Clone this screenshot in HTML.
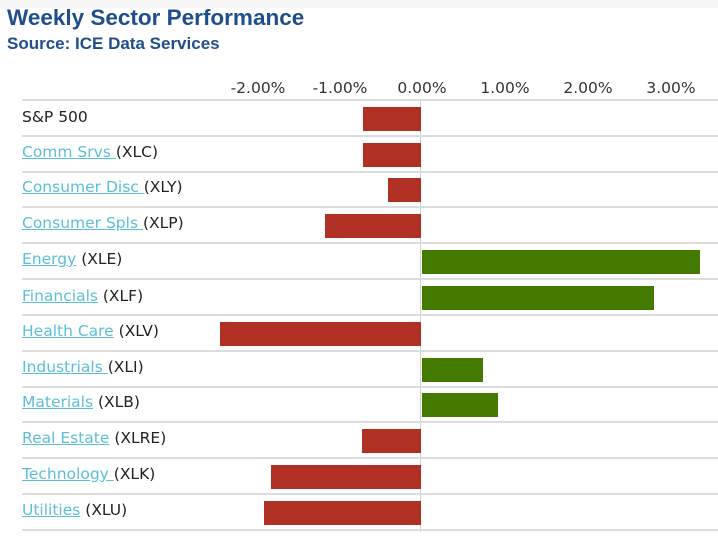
<!DOCTYPE html>
<html><head><meta charset="utf-8"><style>
body{margin:0;width:718px;height:556px;background:#fff;position:relative;overflow:hidden;font-family:"DejaVu Sans",sans-serif}
.t{position:absolute;left:7px;font-family:"Liberation Sans",Arial,sans-serif;font-weight:bold;color:#1f4e8c;white-space:nowrap}
.tick{position:absolute;top:79px;font-size:15.5px;color:#333;width:90px;text-align:center}
.g{position:absolute;left:22px;width:696px;height:2px;background:#dcdcdc}
.lab{position:absolute;left:22px;font-size:15.5px;color:#222;white-space:pre}
.lab a{color:#5bbfd9;text-decoration:underline}
.b{position:absolute;height:24px}
.r{background:#b03024}.gr{background:#457a00}
</style></head><body>
<div style="position:absolute;left:0;top:0;width:718px;height:8px;background:#f5f5f5"></div>
<div class="t" style="top:5px;font-size:22.5px">Weekly Sector Performance</div>
<div class="t" style="top:34px;font-size:17px">Source: ICE Data Services</div>
<div class="tick" style="left:213px">-2.00%</div>
<div class="tick" style="left:295px">-1.00%</div>
<div class="tick" style="left:377px">0.00%</div>
<div class="tick" style="left:460px">1.00%</div>
<div class="tick" style="left:543px">2.00%</div>
<div class="tick" style="left:626px">3.00%</div>
<div style="position:absolute;left:420px;top:100px;width:1px;height:432px;background:#cfcfcf"></div>
<div class="g" style="top:99px"></div><div class="g" style="top:135px"></div><div class="g" style="top:171px"></div><div class="g" style="top:206px"></div><div class="g" style="top:242px"></div><div class="g" style="top:278px"></div><div class="g" style="top:314px"></div><div class="g" style="top:350px"></div><div class="g" style="top:386px"></div><div class="g" style="top:421px"></div><div class="g" style="top:457px"></div><div class="g" style="top:493px"></div><div class="g" style="top:529px"></div>
<div class="lab" style="top:108px">S&amp;P 500</div>
<div class="lab" style="top:143px"><a>Comm Srvs </a>(XLC)</div>
<div class="lab" style="top:178px"><a>Consumer Disc </a>(XLY)</div>
<div class="lab" style="top:214px"><a>Consumer Spls </a>(XLP)</div>
<div class="lab" style="top:250px"><a>Energy</a> (XLE)</div>
<div class="lab" style="top:287px"><a>Financials</a> (XLF)</div>
<div class="lab" style="top:322px"><a>Health Care</a> (XLV)</div>
<div class="lab" style="top:358px"><a>Industrials </a>(XLI)</div>
<div class="lab" style="top:393px"><a>Materials</a> (XLB)</div>
<div class="lab" style="top:429px"><a>Real Estate</a> (XLRE)</div>
<div class="lab" style="top:465px"><a>Technology </a>(XLK)</div>
<div class="lab" style="top:501px"><a>Utilities</a> (XLU)</div>
<div class="b r" style="top:107px;left:363px;width:58px"></div>
<div class="b r" style="top:143px;left:363px;width:58px"></div>
<div class="b r" style="top:178px;left:388px;width:33px"></div>
<div class="b r" style="top:214px;left:325px;width:96px"></div>
<div class="b gr" style="top:250px;left:422px;width:278px"></div>
<div class="b gr" style="top:286px;left:422px;width:232px"></div>
<div class="b r" style="top:322px;left:220px;width:201px"></div>
<div class="b gr" style="top:358px;left:422px;width:61px"></div>
<div class="b gr" style="top:393px;left:422px;width:76px"></div>
<div class="b r" style="top:429px;left:362px;width:59px"></div>
<div class="b r" style="top:465px;left:271px;width:150px"></div>
<div class="b r" style="top:501px;left:264px;width:157px"></div>
</body></html>
